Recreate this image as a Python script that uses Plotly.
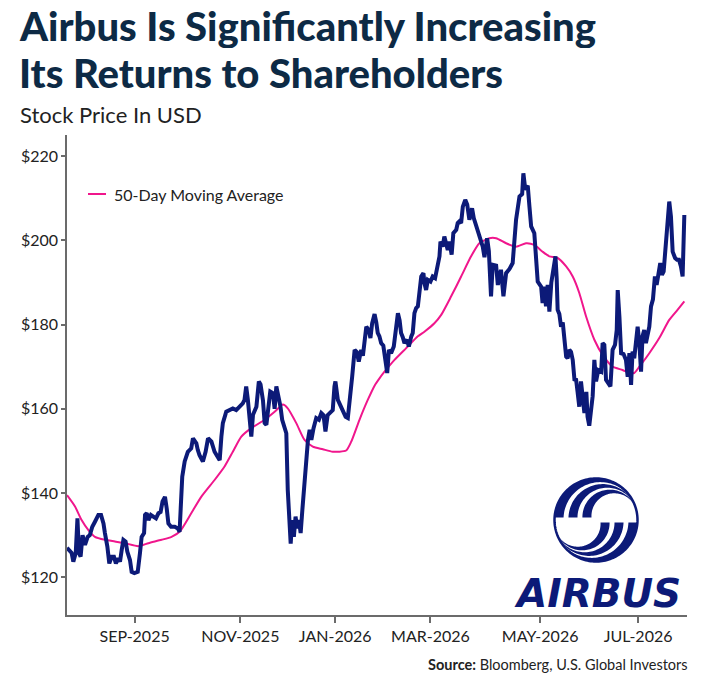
import numpy as np
import plotly.graph_objects as go

# ---------------- data ----------------
day = [0.0, 1.9, 2.6, 3.6, 4.3, 4.9, 5.6, 6.4, 7.4, 8.5, 9.4, 10.4, 11.5, 12.9, 14.0, 15.0, 15.6, 16.6, 17.4,
       18.4, 19.3, 20.1, 21.1, 21.8, 22.5, 23.2, 24.1, 24.8, 25.9, 26.6, 27.7, 29.1, 30.0, 30.7, 31.7, 32.1,
       32.8, 33.5, 34.5, 35.5, 36.6, 37.6, 38.5, 39.3, 40.3, 41.0, 41.7, 42.8, 44.3, 45.6, 46.3, 47.4, 48.4,
       49.7, 51.1, 51.8, 53.2, 53.8, 54.5, 55.9, 57.0, 58.0, 59.4, 60.7, 62.1, 62.8, 63.5, 64.1, 65.5, 66.9,
       68.2, 69.6, 71.0, 72.3, 73.0, 73.7, 74.4, 75.1, 75.8, 76.5, 77.9, 78.9, 79.6, 80.6, 81.3, 82.0, 82.6,
       83.6, 84.7, 85.4, 86.1, 87.1, 87.8, 88.5, 89.5, 90.2, 90.8, 91.5, 92.0, 92.6, 93.3, 94.0, 94.7, 95.4,
       96.1, 96.8, 97.4, 98.4, 99.1, 99.8, 100.5, 101.4, 102.5, 103.6, 104.6, 105.5, 106.3, 107.2, 108.0,
       109.3, 110.0, 110.4, 111.4, 112.3, 113.4, 114.6, 115.5, 116.2, 116.6, 117.3, 118.3, 119.2, 120.0,
       121.0, 121.7, 122.4, 123.1, 124.1, 124.8, 125.5, 126.5, 127.2, 127.8, 128.5, 129.2, 130.1, 130.9,
       131.7, 132.4, 133.3, 134.4, 135.1, 136.1, 136.8, 137.4, 138.1, 138.8, 139.8, 140.6, 141.6, 142.2,
       142.9, 143.6, 144.3, 145.0, 145.7, 146.6, 147.0, 147.7, 148.4, 149.5, 150.4, 151.4, 152.5, 153.2,
       153.6, 154.5, 155.2, 155.9, 156.6, 157.3, 158.2, 158.9, 160.1, 160.7, 161.4, 162.1, 162.8, 163.8,
       164.6, 165.5, 166.2, 166.6, 167.3, 168.3, 168.9, 170.0, 171.0, 171.7, 172.8, 173.5, 174.4, 175.1,
       176.5, 177.2, 178.5, 179.5, 180.6, 182.0, 183.3, 184.7, 186.1, 187.2, 187.7, 188.5, 189.5, 190.2,
       190.9, 192.2, 192.9, 193.6, 195.0, 195.6, 196.3, 197.0, 197.7, 198.4, 199.2, 200.0, 200.9, 201.4,
       201.8, 202.5, 203.2, 203.9, 204.6, 205.3, 205.9, 206.6, 207.3, 208.0, 208.7, 209.4, 210.0, 210.7,
       211.4, 212.1, 212.8, 213.6, 214.1, 214.8, 215.5, 216.2, 216.9, 217.6, 218.5, 219.7, 220.3, 221.0,
       221.7, 222.7, 223.5, 224.4, 225.4, 226.1, 226.5, 227.2, 227.9, 228.9, 229.9, 230.6, 231.3, 232.0,
       232.6, 233.3, 234.0, 234.7, 235.4, 236.1, 236.7, 237.4, 238.1, 239.5, 240.2, 241.0, 241.8, 242.5,
       243.2, 244.0, 244.7, 245.4, 246.1, 247.0, 247.7, 248.4, 249.1, 250.1, 250.9, 251.7, 252.5, 253.2,
       253.9]
price = [127.0, 125.8, 123.7, 125.8, 134.0, 125.8, 124.9, 130.0, 127.7, 129.6, 130.0, 132.0, 133.2, 134.8,
         134.8, 132.8, 130.5, 127.3, 123.3, 124.9, 124.9, 123.3, 124.5, 123.7, 126.5, 128.9, 128.5, 126.1,
         124.1, 121.3, 121.0, 121.3, 125.7, 129.6, 130.5, 134.8, 135.2, 133.6, 134.8, 134.5, 134.0, 135.2,
         135.5, 138.0, 139.1, 136.4, 132.8, 132.0, 132.0, 131.6, 130.8, 143.9, 147.5, 149.8, 150.6, 153.0,
         151.8, 150.2, 149.0, 147.5, 149.8, 153.0, 152.2, 149.8, 148.3, 147.8, 153.4, 156.6, 159.3, 159.7,
         160.1, 159.7, 160.5, 161.3, 162.1, 165.3, 162.1, 158.6, 153.4, 158.6, 160.5, 166.5, 165.8, 162.0,
         156.6, 156.2, 159.0, 164.1, 163.7, 160.0, 165.3, 163.0, 160.5, 157.4, 155.8, 154.2, 140.7, 131.2,
         128.0, 133.6, 129.6, 134.4, 131.6, 133.6, 130.5, 136.0, 140.7, 146.3, 152.6, 155.0, 152.6, 155.4,
         157.8, 157.4, 159.0, 158.5, 154.6, 158.5, 159.1, 159.7, 165.3, 166.5, 162.1, 161.0, 159.7, 158.1,
         157.8, 161.3, 164.5, 167.7, 174.0, 173.5, 171.2, 174.0, 172.6, 176.4, 179.5, 178.7, 176.8, 180.3,
         182.5, 180.5, 178.0, 177.2, 175.6, 175.0, 172.4, 168.5, 174.0, 173.2, 174.8, 178.0, 182.7, 181.0,
         178.0, 177.0, 175.6, 176.4, 174.8, 177.2, 178.0, 182.7, 183.9, 184.3, 187.5, 191.4, 192.2, 189.8,
         188.2, 190.6, 190.2, 191.4, 191.0, 193.8, 196.2, 199.7, 198.5, 200.9, 198.9, 197.7, 199.7, 196.6,
         201.7, 202.5, 204.1, 204.5, 204.1, 208.0, 209.6, 208.5, 204.9, 206.4, 207.6, 205.3, 203.3, 202.5,
         200.1, 198.5, 196.0, 200.5, 197.5, 186.7, 194.2, 194.0, 189.4, 193.0, 186.7, 192.2, 193.2, 194.6,
         204.9, 210.4, 211.0, 215.9, 212.0, 213.0, 208.0, 203.3, 201.7, 197.0, 190.2, 189.0, 185.1, 189.0,
         184.3, 189.4, 183.1, 190.0, 193.8, 196.2, 191.0, 183.5, 182.5, 179.5, 180.5, 177.2, 172.4, 172.0,
         174.0, 173.5, 171.6, 167.0, 166.9, 164.0, 160.5, 166.5, 163.5, 159.0, 164.0, 158.1, 156.0, 159.0,
         163.0, 171.6, 166.5, 169.2, 168.8, 175.6, 175.2, 166.9, 166.2, 165.3, 174.0, 175.2, 178.7, 188.2,
         181.9, 173.2, 173.0, 171.6, 167.6, 173.2, 165.7, 173.6, 172.0, 176.4, 179.5, 175.6, 168.8, 177.2,
         178.7, 175.6, 179.5, 184.3, 186.0, 191.4, 189.4, 191.8, 194.6, 191.8, 192.6, 197.7, 205.6, 209.2,
         205.6, 197.3, 195.8, 195.4, 195.4, 193.8, 191.4, 206.0]

ma_day = [0.0, 3.3, 6.0, 8.8, 11.5, 15.6, 19.7, 23.8, 29.3, 33.5, 38.9, 43.0, 46.3, 51.1, 55.2, 60.7, 64.8,
          68.2, 71.7, 75.8, 81.3, 85.4, 88.8, 90.8, 94.3, 97.7, 101.1, 105.2, 109.3, 114.8, 116.9, 120.3,
          123.7, 126.5, 128.6, 130.6, 134.7, 139.5, 144.3, 147.0, 151.1, 153.9, 158.0, 162.1, 166.2, 169.6,
          173.7, 176.5, 180.6, 184.7, 188.8, 192.2, 195.6, 198.4, 201.8, 205.3, 208.0, 210.7, 213.5, 216.9,
          220.3, 224.4, 228.5, 231.3, 233.3, 235.4, 239.5, 243.6, 247.7, 251.1, 253.9]
ma_price = [139.5, 136.8, 133.6, 131.2, 129.6, 128.9, 128.5, 128.1, 127.4, 128.1, 128.9, 129.6, 130.8, 135.2,
            139.1, 143.1, 146.3, 149.8, 153.4, 155.4, 157.4, 159.3, 161.0, 160.1, 156.6, 152.6, 151.0, 150.4,
            149.8, 150.1, 152.2, 157.4, 162.1, 165.5, 167.3, 168.8, 171.6, 174.4, 177.2, 178.3, 180.3, 182.3,
            186.7, 191.4, 196.2, 199.3, 200.5, 200.5, 199.3, 198.5, 199.3, 198.9, 197.3, 196.2, 195.8, 193.8,
            191.4, 187.5, 181.9, 176.4, 172.8, 170.0, 169.2, 168.5, 168.5, 170.0, 173.2, 176.8, 181.1, 183.5,
            185.5]

tick_days = [27.8, 71.3, 110.3, 149.5, 194.6, 234.9]
tick_labels = ["SEP-2025", "NOV-2025", "JAN-2026", "MAR-2026", "MAY-2026", "JUL-2026"]
y_ticks = [120, 140, 160, 180, 200, 220]
y_labels = ["$120", "$140", "$160", "$180", "$200", "$220"]

# ---------------- styling ----------------
W, H = 702, 680
ML, MR, MT, MB = 67, 15, 135, 65
PW, PH = W - ML - MR, H - MT - MB
NAVY = "#0c1a78"
PINK = "#f0168c"
TITLE = "#0d2a45"
TXT = "#222222"
AX = "#6b6b6b"
BODY = "Lato, 'Liberation Sans', sans-serif"


def P(px, py):
    """pixel position on the page -> paper coordinates"""
    return (px - ML) / PW, (MT + PH - py) / PH


fig = go.Figure()
fig.add_trace(go.Scatter(x=ma_day, y=ma_price, mode="lines", name="50-Day Moving Average",
                         line=dict(color=PINK, width=2, shape="spline", smoothing=0.6),
                         showlegend=False, hoverinfo="skip"))
fig.add_trace(go.Scatter(x=day, y=price, mode="lines", name="Airbus",
                         line=dict(color=NAVY, width=4, shape="linear"),
                         showlegend=False))

annotations = []
shapes = []


def ann(text, px, py, size, color, family, xanchor="left", yanchor="middle", weight=None, height=None):
    x, y = P(px, py)
    font = dict(size=size, color=color, family=family)
    if weight is not None:
        font["weight"] = weight
    a = dict(text=text, x=x, y=y, xref="paper", yref="paper", showarrow=False,
             xanchor=xanchor, yanchor=yanchor, font=font)
    if height is not None:
        a["height"] = height
    annotations.append(a)


ann("Airbus Is Significantly Increasing", 17, 26, 40, TITLE, BODY, weight=900, height=44)
ann("Its Returns to Shareholders", 17, 73, 40, TITLE, BODY, weight=900, height=44)
ann("Stock Price In USD", 18, 114, 22, TXT, BODY)
ann("<b>Source:</b> Bloomberg, U.S. Global Investors", 690, 664, 14.5, TXT, BODY, xanchor="right")

# legend (manual, to match the short sample line)
lx0, ly0 = P(88, 194)
lx1, _ = P(106, 194)
shapes.append(dict(type="line", xref="paper", yref="paper", x0=lx0, x1=lx1, y0=ly0, y1=ly0,
                   line=dict(color=PINK, width=2)))
ann("50-Day Moving Average", 112, 194, 16, TXT, BODY)

# ---------------- Airbus logo ----------------
LX, LY, LR = 596, 520, 41.5


def to_paper_path(pts):
    segs = []
    for i, (x, y) in enumerate(pts):
        px, py = LX + LR * x, LY - LR * y
        qx, qy = P(px, py)
        segs.append(("M" if i == 0 else "L") + f"{qx:.5f},{qy:.5f}")
    return " ".join(segs) + " Z"


th0 = np.radians(12)
u = np.array([np.cos(th0), np.sin(th0)])


def band(ra, rb, cut):
    ca = (1 - ra) * u
    cb = (1 - rb) * u
    fa = np.pi - np.arcsin((cut - ca[1]) / ra)
    fb = np.pi - np.arcsin((cut - cb[1]) / rb)
    pa = [ca + ra * np.array([np.cos(f), np.sin(f)]) for f in np.linspace(fa, th0, 60)]
    pb = [cb + rb * np.array([np.cos(f), np.sin(f)]) for f in np.linspace(th0, fb, 60)]
    return pa + pb


for ra, rb in [(1.0, 0.89), (0.83, 0.72), (0.66, 0.55)]:
    pts = band(ra, rb, 0.06)
    shapes.append(dict(type="path", xref="paper", yref="paper", path=to_paper_path(pts),
                       fillcolor=NAVY, line=dict(width=0), layer="above"))
    rot = [(-x, -y) for x, y in pts]
    shapes.append(dict(type="path", xref="paper", yref="paper", path=to_paper_path(rot),
                       fillcolor=NAVY, line=dict(width=0), layer="above"))

ring = [(np.cos(a), np.sin(a)) for a in np.linspace(0, 2 * np.pi, 160)]
shapes.append(dict(type="path", xref="paper", yref="paper", path=to_paper_path(ring),
                   fillcolor="rgba(0,0,0,0)", line=dict(color=NAVY, width=2.5), layer="above"))

ann("<b><i>AIRBUS</i></b>", 597, 593, 39, NAVY, "'DejaVu Sans', sans-serif", xanchor="center")

fig.update_layout(
    width=W, height=H, margin=dict(l=ML, r=MR, t=MT, b=MB, autoexpand=False),
    paper_bgcolor="white", plot_bgcolor="white",
    showlegend=False,
    annotations=annotations, shapes=shapes,
    xaxis=dict(range=[0, 255], tickmode="array", tickvals=tick_days, ticktext=tick_labels,
               showgrid=False, zeroline=False, showline=True, linecolor=AX, linewidth=1.5,
               ticks="outside", ticklen=6, tickwidth=1.5, tickcolor=AX, ticklabelstandoff=0,
               tickfont=dict(family=BODY, size=16, color=TXT)),
    yaxis=dict(range=[111.05, 225], tickmode="array", tickvals=y_ticks, ticktext=y_labels,
               showgrid=False, zeroline=False, showline=True, linecolor=AX, linewidth=1.5,
               ticks="outside", ticklen=4, tickwidth=1.5, tickcolor=AX,
               tickfont=dict(family=BODY, size=16, color=TXT)),
)

fig.write_html("out.html")
